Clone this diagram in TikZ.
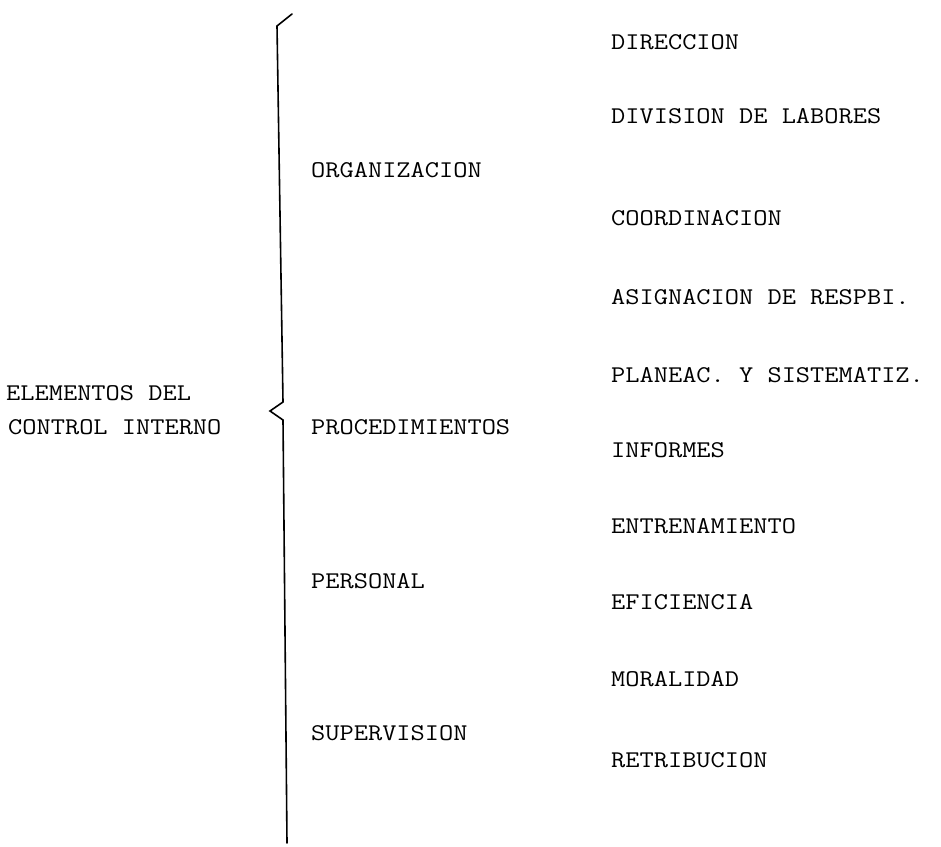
\documentclass[tikz,border=0pt]{standalone}
\usepackage{fontspec}
\newfontfamily\twfont[FakeStretch=1.15]{Latin Modern Mono}
\begin{document}
\begin{tikzpicture}[x=1pt,y=-1pt,
  lbl/.style={anchor=base west,inner sep=0pt,font=\twfont\fontsize{24}{24}\selectfont,text=black},
  bracestroke/.style={line width=1.6pt,line join=miter,line cap=round}]
\useasboundingbox (0,0) rectangle (941,846);
% left title
\node[lbl] (elem) at (6,400) {ELEMENTOS DEL};
\node[lbl] (ctrl) at (8,434) {CONTROL INTERNO};
% brace
\draw[bracestroke] (292,14) -- (277,26) -- (283,402) -- (270,411) -- (283,420) -- (287,843);
% middle column
\node[lbl] (org) at (311,177) {ORGANIZACION};
\node[lbl] (proc) at (311,434) {PROCEDIMIENTOS};
\node[lbl] (pers) at (311,588) {PERSONAL};
\node[lbl] (sup) at (311,740) {SUPERVISION};
% right column
\node[lbl] (dir) at (611,49) {DIRECCION};
\node[lbl] (div) at (611,123) {DIVISION DE LABORES};
\node[lbl] (coord) at (611,225) {COORDINACION};
\node[lbl] (asig) at (611,304) {ASIGNACION DE RESPBI.};
\node[lbl] (plan) at (611,382) {PLANEAC. Y SISTEMATIZ.};
\node[lbl] (inf) at (611,457) {INFORMES};
\node[lbl] (entr) at (611,533) {ENTRENAMIENTO};
\node[lbl] (efic) at (611,609) {EFICIENCIA};
\node[lbl] (mor) at (611,686) {MORALIDAD};
\node[lbl] (ret) at (611,767) {RETRIBUCION};
\end{tikzpicture}
\end{document}
